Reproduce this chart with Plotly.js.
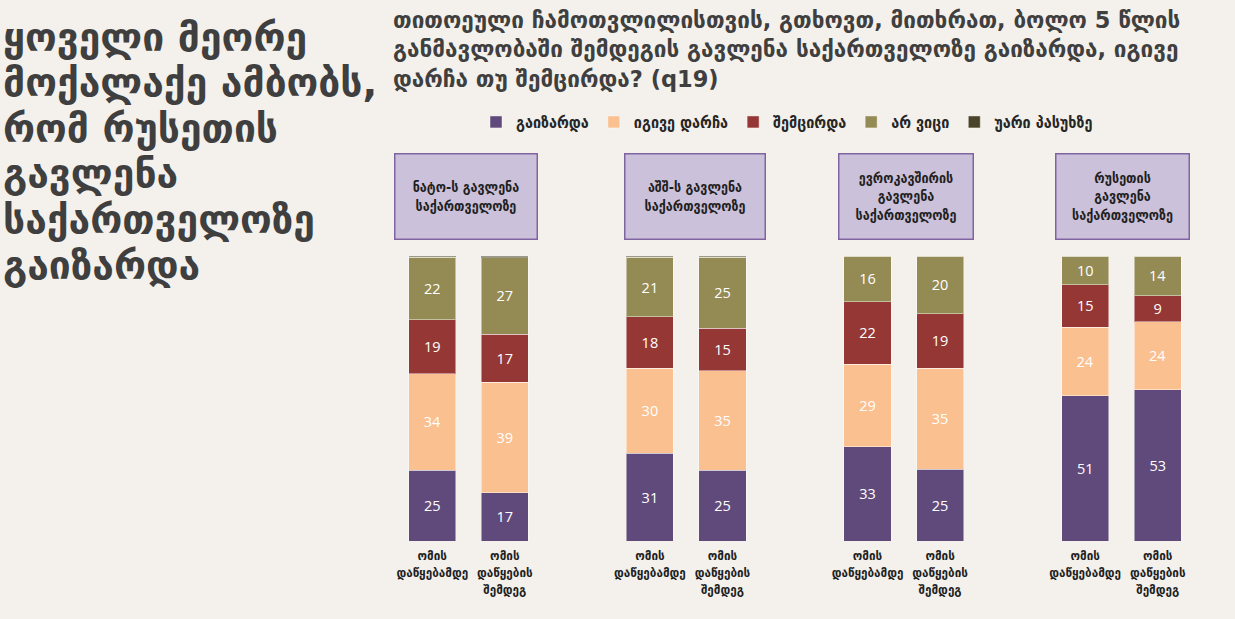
<!DOCTYPE html>
<html>
<head>
<meta charset="utf-8">
<script src="https://cdn.plot.ly/plotly-3.0.1.min.js"></script>
<style>
  html, body { margin: 0; padding: 0; background: #F4F1EC; }
  #chart { width: 1235px; height: 619px; }
</style>
</head>
<body>
<div id="chart"></div>
<script>
const xPos = [0, 1, 3, 4, 6, 7, 9, 10];
const xLabels = [
  "ომის<br>დაწყებამდე", "ომის<br>დაწყების<br>შემდეგ",
  "ომის<br>დაწყებამდე", "ომის<br>დაწყების<br>შემდეგ",
  "ომის<br>დაწყებამდე", "ომის<br>დაწყების<br>შემდეგ",
  "ომის<br>დაწყებამდე", "ომის<br>დაწყების<br>შემდეგ"
];
const groupNames = [
  "ნატო-ს გავლენა<br>საქართველოზე",
  "აშშ-ს გავლენა<br>საქართველოზე",
  "ევროკავშირის<br>გავლენა<br>საქართველოზე",
  "რუსეთის<br>გავლენა<br>საქართველოზე"
];
const seriesNames = ["გაიზარდა", "იგივე დარჩა", "შემცირდა", "არ ვიცი", "უარი პასუხზე"];
const increased = [25, 17, 31, 25, 33, 25, 51, 53];
const same      = [34, 39, 30, 35, 29, 35, 24, 24];
const decreased = [19, 17, 18, 15, 22, 19, 15, 9];
const dontKnow  = [22, 27, 21, 25, 16, 20, 10, 14];
const refused   = [0.5, 0.6, 0.5, 0.5, 0, 0, 0, 0];

const headline = ["ყოველი მეორე", "მოქალაქე ამბობს,", "რომ რუსეთის", "გავლენა", "საქართველოზე", "გაიზარდა"];
const question = "თითოეული ჩამოთვლილისთვის, გთხოვთ, მითხრათ, ბოლო 5 წლის<br>განმავლობაში შემდეგის გავლენა საქართველოზე გაიზარდა, იგივე<br>დარჩა თუ შემცირდა? (q19)";

const colors = ["#604A7B", "#FAC090", "#953735", "#948A54", "#4A452A"];
const allSeries = [increased, same, decreased, dontKnow, refused];

const geoC = "DejaVu Sans Condensed, DejaVu Sans, sans-serif";
const geo = "DejaVu Sans, sans-serif";
const dark = "#3F3F3F";

const traces = allSeries.map(function (vals, i) {
  return {
    type: "bar",
    name: seriesNames[i],
    x: xPos,
    y: vals,
    width: 0.65,
    marker: { color: colors[i], line: { color: "rgba(255,255,255,0.45)", width: 1 } },
    text: vals.map(function (v) { return i < 4 ? String(v) : ""; }),
    textposition: "inside",
    insidetextanchor: "middle",
    textangle: 0,
    textfont: { family: "Open Sans, sans-serif", size: 14.5, color: "#FFFFFF" },
    hoverinfo: "name+text"
  };
});

const boxX = [0.0871, 0.3753, 0.6385, 0.911];
const boxW = [139, 137, 131, 130];
const annotations = groupNames.map(function (g, i) {
  return {
    xref: "paper", yref: "paper",
    x: boxX[i], y: 1.2105,
    xanchor: "center", yanchor: "middle",
    text: g, showarrow: false,
    width: boxW[i], height: 82,
    bgcolor: "#CCC1DA", bordercolor: "#8064A2", borderwidth: 1.5,
    font: { family: geoC, size: 14, color: "#1F1F1F", weight: "bold" }
  };
});

headline.forEach(function (line, i) {
  annotations.push({
    xref: "paper", yref: "paper", x: -0.4945, y: 1.7684 - i * 0.16,
    xanchor: "left", yanchor: "middle", align: "left", showarrow: false,
    text: line,
    font: { family: geo, size: 39, color: dark, weight: "bold" }
  });
});
annotations.push({
  xref: "paper", yref: "paper", x: -0.006, y: 1.882,
  xanchor: "left", yanchor: "top", align: "left", showarrow: false,
  text: question,
  font: { family: geo, size: 22.5, color: dark, weight: "bold" }
});

const layout = {
  width: 1235, height: 619,
  paper_bgcolor: "#F4F1EC", plot_bgcolor: "#F4F1EC",
  margin: { l: 396, r: 41, t: 256, b: 78 },
  barmode: "stack",
  barnorm: "percent",
  showlegend: true,
  legend: {
    orientation: "h", x: 0.49, xanchor: "center", y: 1.47, yanchor: "middle",
    traceorder: "normal",
    font: { family: geoC, size: 16, color: "#262626", weight: "bold" },
    bgcolor: "rgba(0,0,0,0)"
  },
  xaxis: {
    range: [-0.5, 10.5],
    tickmode: "array", tickvals: xPos, ticktext: xLabels,
    showgrid: false, zeroline: false, showline: false, ticks: "",
    ticklabelstandoff: 5,
    tickfont: { family: geoC, size: 13, color: "#1F1F1F", weight: "bold" },
    fixedrange: true
  },
  yaxis: { range: [0, 100], visible: false, fixedrange: true },
  annotations: annotations
};

Plotly.newPlot("chart", traces, layout, { displayModeBar: false, staticPlot: true });
</script>
</body>
</html>
